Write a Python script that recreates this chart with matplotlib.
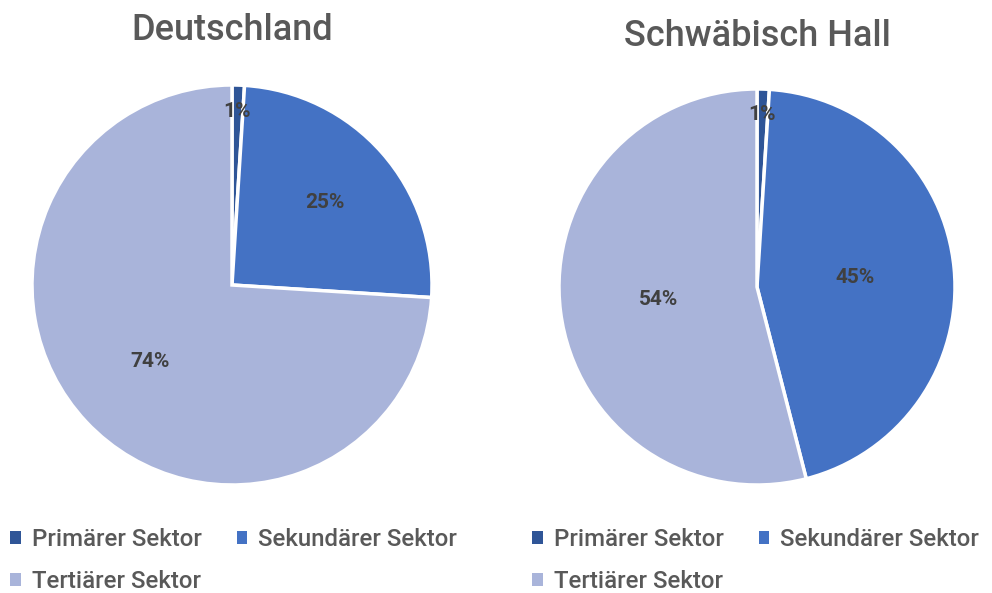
import matplotlib
matplotlib.use("Agg")
import matplotlib.pyplot as plt
import numpy as np

plt.rcParams['font.family'] = ['Roboto', 'DejaVu Sans']

sectors = ["Primärer Sektor", "Sekundärer Sektor", "Tertiärer Sektor"]
titles = ["Deutschland", "Schwäbisch Hall"]
de_values = [1, 25, 74]
sha_values = [1, 45, 54]

colors = ["#2F5597", "#4472C4", "#A9B4DA"]
text_gray = "#595959"
label_gray = "#404040"

W, H = 992, 593
fig = plt.figure(figsize=(W / 100, H / 100), dpi=100)

# pie placement in pixels: (center x, center y from top, radius)
placements = [(232, 285, 200), (757, 287, 198)]
label_dists = [[0.87, 0.62, 0.56], [0.87, 0.5, 0.5]]
title_y = [31, 36]
legend_pos = [(3, 521), (525, 521)]

for i, (vals, title) in enumerate(zip([de_values, sha_values], titles)):
    cx, cy, r = placements[i]
    ax = fig.add_axes([(cx - r) / W, (H - cy - r) / H, 2 * r / W, 2 * r / H])
    wedges, _ = ax.pie(vals, colors=colors, startangle=90, counterclock=False,
                       radius=1, wedgeprops=dict(edgecolor="white", linewidth=2.5))
    ax.set_xlim(-1, 1)
    ax.set_ylim(-1, 1)
    ax.set_aspect("equal")
    ax.axis("off")
    for w, v, d in zip(wedges, vals, label_dists[i]):
        ang = np.deg2rad((w.theta1 + w.theta2) / 2)
        ax.text(d * np.cos(ang), d * np.sin(ang), f"{v}%", ha="center", va="center",
                fontsize=15, fontweight="bold", color=label_gray)
    fig.text(cx / W, 1 - title_y[i] / H, title, ha="center", va="center",
             fontsize=26, fontweight="medium", color=text_gray)
    lx, ly = legend_pos[i]
    handles = [wedges[0], wedges[2], wedges[1]]
    labels = [sectors[0], sectors[2], sectors[1]]
    leg = fig.legend(handles, labels, loc="upper left",
                     bbox_to_anchor=(lx / W, 1 - ly / H), ncol=2, frameon=False,
                     prop=dict(size=17.3, weight="medium"),
                     handlelength=0.45, handleheight=0.45,
                     handletextpad=0.45, columnspacing=1.45, labelspacing=0.8,
                     borderaxespad=0, borderpad=0.3)
    for t in leg.get_texts():
        t.set_color(text_gray)
    for h in leg.legend_handles:
        h.set_edgecolor("none")

fig.savefig("out.png", dpi=100)
